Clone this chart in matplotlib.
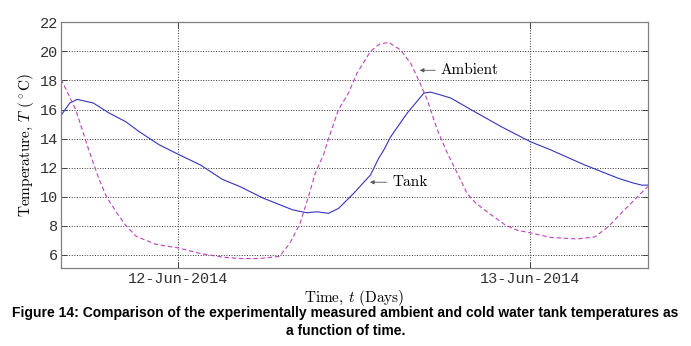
import matplotlib
matplotlib.use("Agg")
import matplotlib.pyplot as plt
import matplotlib.dates as mdates
import numpy as np
from datetime import datetime, timedelta

plt.rcParams['mathtext.fontset'] = 'cm'

# hours after 12-Jun-2014 00:00
amb_h = [-8.0, -7.0, -6.1, -5.4, -4.9, -4.2, -3.6, -2.9, -2.2, -1.5, 0.0, 1.5, 3.0, 4.2, 5.5, 6.9,
         7.6, 8.3, 8.87, 9.33, 9.9, 10.24, 10.92, 11.6, 12.18, 13.1, 13.7, 14.35, 15.15, 15.83,
         16.4, 16.97, 17.66, 18.34, 19.25, 19.7, 20.3, 20.9, 22.3, 23.1, 24.0, 25.4, 27.2, 28.4,
         29.3, 30.4, 32.0]
amb_t = [18.1, 16.0, 13.2, 11.2, 10.0, 8.9, 8.05, 7.3, 7.0, 6.72, 6.48, 6.1, 5.85, 5.75, 5.75, 5.9,
         6.8, 8.17, 10.0, 11.6, 12.9, 14.0, 16.0, 17.13, 18.5, 20.0, 20.5, 20.62, 20.1, 19.2,
         18.0, 16.67, 14.6, 13.0, 11.15, 10.2, 9.55, 9.08, 8.05, 7.7, 7.52, 7.2, 7.1, 7.24,
         7.93, 9.08, 10.7]

tank_h = [-8.0, -7.4, -6.9, -5.8, -4.7, -3.6, -2.7, -1.3, 0.0, 1.5, 3.0, 4.2, 5.8, 7.8, 8.76,
          9.45, 10.24, 10.92, 11.95, 13.1, 13.66, 14.0, 14.46, 15.6, 16.74, 17.2, 17.9, 18.6,
          19.94, 22.0, 24.0, 25.4, 27.7, 30.0, 31.0, 31.6, 32.0]
tank_t = [15.6, 16.45, 16.7, 16.45, 15.75, 15.17, 14.5, 13.57, 12.92, 12.19, 11.2, 10.7, 9.9,
          9.1, 8.9, 8.97, 8.86, 9.2, 10.23, 11.5, 12.65, 13.2, 14.1, 15.75, 17.13, 17.2, 17.0,
          16.78, 16.0, 14.83, 13.79, 13.22, 12.19, 11.27, 10.95, 10.8, 10.8]

base = datetime(2014, 6, 12)
amb_x = [base + timedelta(hours=h) for h in amb_h]
tank_x = [base + timedelta(hours=h) for h in tank_h]

fig = plt.figure(figsize=(6.91, 3.46), dpi=100)
ax = fig.add_axes([0.0883, 0.2254, 0.849, 0.7101])

ax.plot(tank_x, tank_t, color='#3434c0', lw=0.8)
ax.plot(amb_x, amb_t, color='#c040c0', lw=0.8, ls=(0, (4, 2.5)))

ax.set_xlim(base - timedelta(hours=8), base + timedelta(hours=32))
ax.set_ylim(5.1, 22)
ax.set_yticks(np.arange(6, 23, 2))
ax.xaxis.set_major_locator(mdates.DayLocator())
ax.xaxis.set_major_formatter(mdates.DateFormatter('%d-%b-%Y'))

for lab in ax.get_xticklabels() + ax.get_yticklabels():
    lab.set_family('Liberation Mono')
    lab.set_fontsize(11)
    lab.set_color('#333333')

ax.tick_params(direction='in', top=True, right=True, length=4, width=0.6, colors='#333333')
ax.tick_params(axis='x', pad=3)
ax.tick_params(axis='y', pad=2)
ax.grid(True, ls=':', color='#333333', lw=0.7)
for s in ax.spines.values():
    s.set_color('#808080')
    s.set_linewidth(0.9)

ax.set_xlabel('Time, $t$ (Days)', family='cmr10', fontsize=11, labelpad=1)
ax.set_ylabel('Temperature, $T$ ($^\\circ$C)', family='cmr10', fontsize=11, labelpad=3)

ax.annotate('Ambient', xy=(base + timedelta(hours=16.27), 18.7),
            xytext=(base + timedelta(hours=17.9), 18.7), va='center', ha='left',
            family='cmr10', fontsize=11,
            arrowprops=dict(arrowstyle='-|>', color='#555555', lw=0.6, mutation_scale=6))
ax.annotate('Tank', xy=(base + timedelta(hours=12.87), 11.0),
            xytext=(base + timedelta(hours=14.6), 11.0), va='center', ha='left',
            family='cmr10', fontsize=11,
            arrowprops=dict(arrowstyle='-|>', color='#555555', lw=0.6, mutation_scale=6))

fig.text(0.5, 0.095, 'Figure 14: Comparison of the experimentally measured ambient and cold water tank temperatures as',
         ha='center', va='center', family='Liberation Sans', weight='bold', fontsize=10)
fig.text(0.5, 0.043, 'a function of time.', ha='center', va='center',
         family='Liberation Sans', weight='bold', fontsize=10)

fig.savefig('out.png', dpi=100)
